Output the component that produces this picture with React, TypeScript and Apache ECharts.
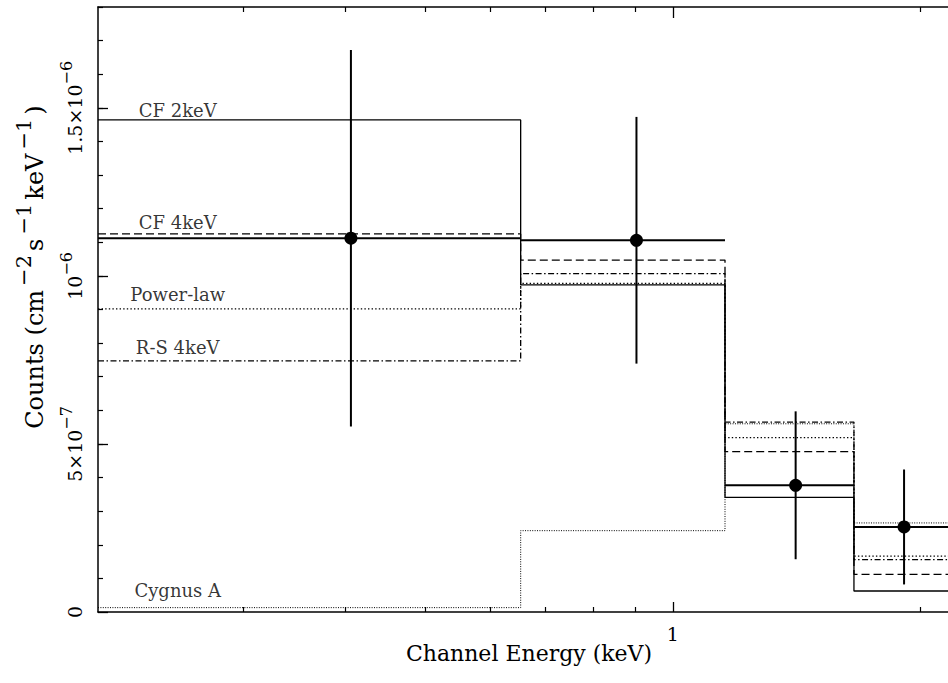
import React, { useEffect, useRef } from "react";
import * as echarts from "echarts";

// ---- Data ----
const BIN_EDGES = [0.2, 0.653, 1.157, 1.66, 2.4]; // keV
const DATA_ENERGY = [0.406, 0.903, 1.41, 1.91]; // keV
const DATA_COUNTS = [1.112e-6, 1.106e-6, 0.377e-6, 0.253e-6];
const DATA_ERR = [0.56e-6, 0.367e-6, 0.22e-6, 0.171e-6];

const CF_2KEV = [1.464e-6, 0.973e-6, 0.341e-6, 0.0625e-6];
const CF_4KEV = [1.125e-6, 1.047e-6, 0.477e-6, 0.112e-6];
const POWER_LAW = [0.902e-6, 0.978e-6, 0.519e-6, 0.166e-6];
const RS_4KEV = [0.747e-6, 1.007e-6, 0.565e-6, 0.156e-6];
const CYGNUS_A = [0.013e-6, 0.242e-6, 0.56e-6, 0.265e-6];

const MODEL_NAMES = ["CF 2keV", "CF 4keV", "Power-law", "R-S 4keV", "Cygnus A"];
const LABEL_ENERGY = 0.25;

const X_MIN = 0.2;
const X_MAX = 2.16;
const X_MAJOR_TICKS = [1];
const X_MINOR_TICKS = [0.3, 0.4, 0.5, 0.6, 0.7, 0.8, 0.9, 2];
const Y_MIN = 0;
const Y_MAX = 1.8e-6;
const Y_MAJOR_TICKS = [0, 5e-7, 1e-6, 1.5e-6];
const Y_MINOR_TICKS = [
  1e-7, 2e-7, 3e-7, 4e-7, 5e-7, 6e-7, 7e-7, 8e-7, 9e-7,
  1.0e-6, 1.1e-6, 1.2e-6, 1.3e-6, 1.4e-6, 1.5e-6, 1.6e-6, 1.7e-6, 1.8e-6,
];

const X_TITLE = "Channel Energy (keV)";

// ---- Styles ----
const FONT = "'DejaVu Serif', 'Liberation Serif', serif";
const INK = "#000";

const MODELS = [
  { name: MODEL_NAMES[0], values: CF_2KEV, type: "solid" as any, width: 1.3, gap: 0 },
  { name: MODEL_NAMES[1], values: CF_4KEV, type: [8, 4], width: 1.3, gap: 2 },
  { name: MODEL_NAMES[2], values: POWER_LAW, type: [1.4, 2.2], width: 1.3, gap: 5 },
  { name: MODEL_NAMES[3], values: RS_4KEV, type: [6, 2.5, 1.5, 2.5], width: 1.3, gap: 4 },
  { name: MODEL_NAMES[4], values: CYGNUS_A, type: [1, 1.4], width: 1.0, gap: 8 },
];

function stepData(values: number[]) {
  const out: number[][] = [];
  values.forEach((v, i) => {
    out.push([BIN_EDGES[i], v]);
    out.push([BIN_EDGES[i + 1], v]);
  });
  return out;
}

const richBase = (size: number, supSize: number, raise: number, side = 0) => ({
  b: { fontSize: size, fontFamily: FONT, color: INK, verticalAlign: "bottom" },
  sup: {
    fontSize: supSize,
    fontFamily: FONT,
    color: INK,
    verticalAlign: "bottom",
    padding: [0, side, raise, side],
  },
});

const fmtY = (v: number) => {
  if (Math.abs(v) < 1e-15) return "{b|0}";
  const exp = Math.floor(Math.log10(v) + 1e-9);
  const m = Math.round((v / Math.pow(10, exp)) * 10) / 10;
  const pow = `{b|10}{sup|\u2212${-exp}}`;
  return m === 1 ? pow : `{b|${m}\u00d7}${pow}`;
};

const log10 = (v: number) => Math.log10(v);

function buildOption(): any {
  const xValueAxisBase = {
    type: "value",
    min: log10(X_MIN),
    max: log10(X_MAX),
    splitLine: { show: false },
  };
  const yBase = {
    type: "value",
    min: Y_MIN,
    max: Y_MAX,
    splitLine: { show: false },
  };

  return {
    animation: false,
    backgroundColor: "#fff",
    grid: {
      left: 98,
      top: 7,
      right: 0,
      bottom: 71,
      containLabel: false,
      outerBoundsMode: "none",
    },
    xAxis: [
      { type: "log", logBase: 10, min: X_MIN, max: X_MAX, show: false },
      {
        ...xValueAxisBase,
        position: "bottom",
        axisLine: { show: true, onZero: false, lineStyle: { color: INK, width: 1.5 } },
        axisTick: {
          show: true,
          inside: true,
          length: 10,
          customValues: X_MAJOR_TICKS.map(log10),
          lineStyle: { color: INK, width: 1.3 },
        },
        axisLabel: {
          show: true,
          customValues: X_MAJOR_TICKS.map(log10),
          formatter: (v: number) => String(Math.round(Math.pow(10, v))),
          margin: 12,
          hideOverlap: false,
          fontFamily: FONT,
          fontSize: 19,
          color: INK,
        },
      },
      {
        ...xValueAxisBase,
        position: "bottom",
        axisLine: { show: false, onZero: false },
        axisTick: {
          show: true,
          inside: true,
          length: 5,
          customValues: X_MINOR_TICKS.map(log10),
          lineStyle: { color: INK, width: 1.2 },
        },
        axisLabel: { show: false },
      },
      {
        ...xValueAxisBase,
        position: "top",
        axisLine: { show: true, onZero: false, lineStyle: { color: INK, width: 1.5 } },
        axisTick: {
          show: true,
          inside: true,
          length: 11,
          customValues: X_MAJOR_TICKS.map(log10),
          lineStyle: { color: INK, width: 1.3 },
        },
        axisLabel: { show: false },
      },
      {
        ...xValueAxisBase,
        position: "top",
        axisLine: { show: false, onZero: false },
        axisTick: {
          show: true,
          inside: true,
          length: 5,
          customValues: X_MINOR_TICKS.map(log10),
          lineStyle: { color: INK, width: 1.2 },
        },
        axisLabel: { show: false },
      },
    ],
    yAxis: [
      {
        ...yBase,
        position: "left",
        axisLine: { show: true, onZero: false, lineStyle: { color: INK, width: 1.5 } },
        axisTick: {
          show: true,
          inside: true,
          length: 10,
          customValues: Y_MAJOR_TICKS,
          lineStyle: { color: INK, width: 1.3 },
        },
        axisLabel: {
          show: true,
          customValues: Y_MAJOR_TICKS,
          rotate: 90,
          margin: 14,
          hideOverlap: false,
          formatter: fmtY,
          rich: richBase(19, 16, 10),
          fontFamily: FONT,
          fontSize: 19,
          color: INK,
        },
      },
      {
        ...yBase,
        position: "left",
        axisLine: { show: false, onZero: false },
        axisTick: {
          show: true,
          inside: true,
          length: 5,
          customValues: Y_MINOR_TICKS,
          lineStyle: { color: INK, width: 1.2 },
        },
        axisLabel: { show: false },
      },
    ],
    graphic: [
      {
        type: "text",
        x: 529,
        y: 653,
        silent: true,
        style: {
          text: X_TITLE,
          font: `22px ${FONT}`,
          fill: INK,
          align: "center",
          verticalAlign: "middle",
        },
      },
      {
        type: "text",
        x: 30,
        y: 267,
        rotation: Math.PI / 2,
        silent: true,
        style: {
          text: "{b|Counts (cm}{sup|\u22122}{b|s}{sup|\u22121}{b|keV}{sup|\u22121}{b|)}",
          rich: richBase(24, 21, 12, 4),
          font: `24px ${FONT}`,
          fill: INK,
          align: "center",
          verticalAlign: "middle",
        },
      },
    ],
    series: [
      ...MODELS.map((m) => ({
        type: "line",
        name: m.name,
        xAxisIndex: 0,
        yAxisIndex: 0,
        data: stepData(m.values),
        showSymbol: false,
        symbol: "none",
        clip: true,
        silent: true,
        lineStyle: { color: INK, width: m.width, type: m.type },
        z: 2,
      })),
      {
        type: "scatter",
        xAxisIndex: 0,
        yAxisIndex: 0,
        symbolSize: 0,
        silent: true,
        itemStyle: { color: "transparent" },
        data: MODELS.map((m) => ({
          value: [LABEL_ENERGY, m.values[0]],
          label: {
            show: true,
            position: "top",
            distance: m.gap,
            formatter: m.name,
            fontFamily: FONT,
            fontSize: 18,
            color: INK,
          },
        })),
        z: 3,
      },
      {
        type: "custom",
        xAxisIndex: 0,
        yAxisIndex: 0,
        clip: true,
        silent: true,
        z: 5,
        encode: { x: 0, y: 1 },
        data: DATA_ENERGY.map((e, i) => [
          e,
          DATA_COUNTS[i],
          DATA_ERR[i],
          BIN_EDGES[i],
          BIN_EDGES[i + 1],
        ]),
        renderItem: (params: any, api: any) => {
          const e = api.value(0);
          const y = api.value(1);
          const err = api.value(2);
          const lo = api.value(3);
          const hi = api.value(4);
          const c = api.coord([e, y]);
          const t = api.coord([e, y + err]);
          const b = api.coord([e, y - err]);
          const l = api.coord([lo, y]);
          const r = api.coord([hi, y]);
          return {
            type: "group",
            children: [
              {
                type: "line",
                shape: { x1: l[0], y1: l[1], x2: r[0], y2: r[1] },
                style: { stroke: INK, lineWidth: 2 },
              },
              {
                type: "line",
                shape: { x1: t[0], y1: t[1], x2: b[0], y2: b[1] },
                style: { stroke: INK, lineWidth: 2 },
              },
              {
                type: "circle",
                shape: { cx: c[0], cy: c[1], r: 6.5 },
                style: { fill: INK, stroke: "none" },
              },
            ],
          };
        },
      },
    ],
  };
}

export default function App() {
  const ref = useRef<HTMLDivElement>(null);
  useEffect(() => {
    if (!ref.current) return;
    const chart = echarts.init(ref.current, null, { renderer: "svg" });
    chart.setOption(buildOption());
    return () => {
      chart.dispose();
    };
  }, []);
  return (
    <div
      ref={ref}
      style={{
        position: "absolute",
        left: 0,
        top: 0,
        width: 948,
        height: 683,
        background: "#fff",
      }}
    />
  );
}
